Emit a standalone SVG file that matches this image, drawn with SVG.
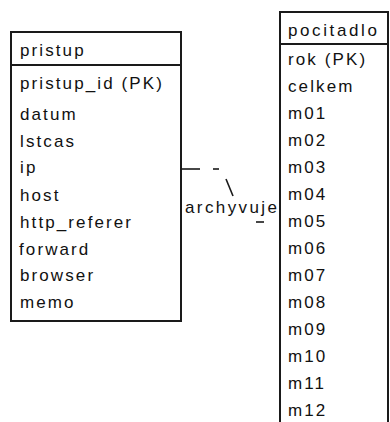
<svg xmlns="http://www.w3.org/2000/svg" width="390" height="422" viewBox="0 0 390 422">
<style>
.box{fill:#fff;stroke:#1a1a1a;stroke-width:2}
.ln{stroke:#1a1a1a;stroke-width:2;fill:none}
.t{font-family:"Liberation Sans",Arial,sans-serif;font-size:17px;fill:#111;letter-spacing:2.1px}
.c{stroke:#1a1a1a;stroke-width:1.6;fill:none}
</style>
<rect width="390" height="422" fill="#fff"/>
<g id="pristup">
<rect class="box" x="11" y="32" width="170" height="289"/>
<line class="ln" x1="11" y1="65" x2="181" y2="65"/>
<text class="t" x="20" y="56">pristup</text>
<text class="t" x="20" y="89">pristup_id (PK)</text>
<text class="t" x="20" y="120">datum</text>
<text class="t" x="20" y="147">lstcas</text>
<text class="t" x="20" y="173">ip</text>
<text class="t" x="20" y="201">host</text>
<text class="t" x="20" y="228">http_referer</text>
<text class="t" x="19" y="255">forward</text>
<text class="t" x="20" y="281">browser</text>
<text class="t" x="20" y="308">memo</text>
</g>
<g id="pocitadlo">
<rect class="box" x="280" y="12" width="108" height="420"/>
<line class="ln" x1="280" y1="44" x2="388" y2="44"/>
<text class="t" x="288" y="36" style="letter-spacing:2.6px">pocitadlo</text>
<text class="t" x="288" y="65">rok (PK)</text>
<text class="t" x="288" y="92">celkem</text>
<text class="t" x="288" y="119">m01</text>
<text class="t" x="288" y="146">m02</text>
<text class="t" x="288" y="173">m03</text>
<text class="t" x="288" y="200">m04</text>
<text class="t" x="288" y="227">m05</text>
<text class="t" x="288" y="254">m06</text>
<text class="t" x="288" y="281">m07</text>
<text class="t" x="288" y="308">m08</text>
<text class="t" x="288" y="335">m09</text>
<text class="t" x="288" y="362">m10</text>
<text class="t" x="288" y="389">m11</text>
<text class="t" x="288" y="416">m12</text>
</g>
<g id="connectors">
<line class="c" x1="181" y1="169" x2="200" y2="169"/>
<line class="c" x1="213" y1="169" x2="219" y2="169"/>
<line class="c" x1="226" y1="179" x2="233" y2="196"/>
<line class="c" x1="256" y1="222" x2="264" y2="222"/>
<text class="t" x="185" y="213" style="letter-spacing:2.4px">archyvuje</text>
</g>
</svg>
